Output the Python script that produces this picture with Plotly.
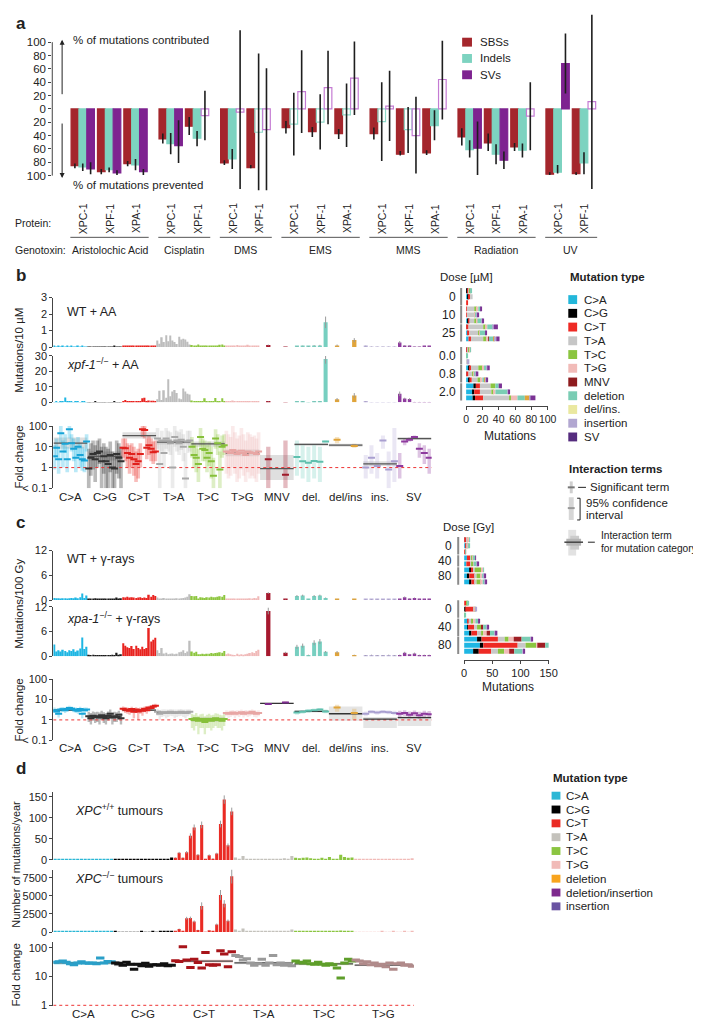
import numpy as np
import plotly.graph_objects as go

W, H = 701, 1018
FONT = "Liberation Sans, Arial, Helvetica, sans-serif"

# ======================= DATA =======================
# ---- Panel a: % of mutations contributed (+) / prevented (-) ----
A_GENOTOXINS = ["Aristolochic Acid", "Cisplatin", "DMS", "EMS", "MMS", "Radiation", "UV"]
A_GENOTOXIN_SIZE = [3, 2, 2, 3, 3, 3, 2]
A_PROTEINS = ["XPC-1", "XPF-1", "XPA-1", "XPC-1", "XPF-1", "XPC-1", "XPF-1", "XPC-1", "XPF-1",
              "XPA-1", "XPC-1", "XPF-1", "XPA-1", "XPC-1", "XPF-1", "XPA-1", "XPC-1", "XPF-1"]
A_SBS = [-85, -94, -82, -45, -26, -81, -88, -28, -34, -37, -37, -68, -66, -42, -51, -57, -98, -97]
A_SBS_UP = [-82, -90, -78, -37, -12, -77, -84, -18, -27, -30, -28, -63, -62, -29, -37, -51, -95, -95]
A_SBS_LOW = [-89, -98, -86, -52, -39, -84, -89, -37, -42, -45, -46, -70, -69, -55, -63, -63, -99, -99]
A_IND = [-87, -91, -84, -52, -44, -75, -35, -23, -20, -9, -19, -31, -25, -61, -68, -62, -95, -81]
A_IND_UP = [-82, -88, -75, -36, -33, -60, 83, 24, 22, 38, 40, 3, -2, -47, -53, -52, -84, -65]
A_IND_LOW = [-93, -95, -92, -68, -56, -90, -122, -70, -61, -57, -78, -66, -47, -73, -83, -73, -97, -98]
A_SV = [-90, -96, -94, -55, -10, -5, -31, 26, 32, 46, 4, -40, 44, -59, -77, -11, 68, 11]
A_SV_UP = [-80, -92, -90, -17, 27, 118, 61, 88, 87, 101, 57, 18, 102, -19, -64, 40, 113, 141]
A_SV_LOW = [-98, -99, -99, -81, -47, -120, -122, -36, -23, -9, -48, -97, -16, -99, -90, -62, 23, -120]
A_SBS_SIG = [1, 1, 1, 1, 1, 1, 1, 1, 1, 1, 1, 1, 1, 1, 1, 1, 1, 1]
A_IND_SIG = [1, 1, 1, 1, 1, 1, 0, 0, 0, 0, 0, 0, 1, 1, 1, 1, 1, 1]
A_SV_SIG = [1, 1, 1, 1, 0, 0, 0, 0, 0, 0, 0, 0, 0, 1, 1, 0, 1, 0]
A_SERIES = ["SBSs", "Indels", "SVs"]
A_COLORS = ["#A4262C", "#7DD3C0", "#7E2390"]
A_OPEN_COLORS = ["#C9686C", "#8FD8C8", "#C47BD3"]

# ---- Panels b/c: mutation classes ----
CLASS_LABELS = ["C>A", "C>G", "C>T", "T>A", "T>C", "T>G", "MNV", "del.", "del/ins", "ins.", "SV"]
SPEC_COLORS = ["#1EB6E3", "#1A1A1A", "#E8231F", "#BDBDBD", "#8DC63F", "#F0B9B8",
               "#A6192E", "#77CFC0", "#E0A43A", "#B9AFD9", "#8E3A9E"]
DASH_COLORS = ["#17A3D6", "#333333", "#E0201C", "#A8A8A8", "#86C03A", "#E8A6A4",
               "#9E1A2A", "#5FC0AE", "#E0A43A", "#A99FD0", "#8E3A9E"]

# b: mutations per 10 uM, WT + AA (one list per class)
B_WT_SPEC = [
    [0.03, 0.02, 0.03, 0.02, 0.03, 0.02, 0.03, 0.02, 0.03, 0.02, 0.02, 0.03, 0.02, 0.03, 0.02, 0.02],
    [0.02, 0.01, 0.02, 0.02, 0.01, 0.02, 0.02, 0.01, 0.02, 0.02, 0.01, 0.02, 0.03, 0.02, 0.02, 0.02],
    [0.04, 0.03, 0.05, 0.04, 0.03, 0.05, 0.04, 0.06, 0.04, 0.05, 0.04, 0.06, 0.05, 0.04, 0.07, 0.05],
    [0.40, 0.20, 0.60, 0.30, 0.72, 0.35, 0.70, 0.40, 0.30, 0.18, 0.62, 0.45, 0.50, 0.45, 0.32, 0.15],
    [0.12, 0.05, 0.06, 0.15, 0.07, 0.06, 0.05, 0.06, 0.05, 0.08, 0.06, 0.05, 0.10, 0.14, 0.15, 0.06],
    [0.06, 0.04, 0.10, 0.05, 0.08, 0.12, 0.07, 0.05, 0.10, 0.06, 0.14, 0.06, 0.05, 0.08, 0.06, 0.10],
    [0.12, 0.02],
    [0.04, 0.06, 0.03, 0.08, 0.10, 1.50],
    [0.10, 0.42],
    [0.06, 0.02, 0.02, 0.02, 0.01, 0.02],
    [0.28, 0.08, 0.06, 0.02, 0.02, 0.03, 0.03],
]
B_WT_ERR = [None, None, None, None, None, None,
            [0.03, 0.01], [0.02, 0.02, 0.02, 0.03, 0.03, 0.35], [0.05, 0.12],
            [0.02, 0.01, 0.01, 0.01, 0.01, 0.01], [0.08, 0.03, 0.03, 0.01, 0.01, 0.01, 0.01]]
# b: xpf-1 + AA
B_X_SPEC = [
    [0.2, 0.3, 0.2, 0.4, 0.3, 3.2, 0.3, 0.6, 0.3, 0.2, 0.3, 0.4, 0.2, 0.3, 0.3, 0.2],
    [0.2, 0.15, 0.2, 0.3, 0.2, 0.15, 0.2, 0.25, 0.2, 0.15, 0.2, 0.2, 0.3, 0.2, 0.25, 0.2],
    [0.4, 1.6, 0.5, 0.8, 0.6, 0.5, 0.7, 0.5, 0.6, 2.6, 3.0, 0.8, 1.2, 1.0, 1.1, 0.6],
    [2.0, 7.5, 1.5, 7.8, 3.0, 15.0, 4.0, 7.0, 8.0, 6.0, 2.5, 2.0, 9.0, 7.0, 5.5, 5.0],
    [1.2, 0.3, 0.4, 0.3, 0.5, 0.6, 2.6, 0.4, 0.3, 0.5, 0.4, 2.8, 0.5, 0.4, 2.6, 0.4],
    [0.5, 0.8, 0.6, 1.2, 0.7, 0.9, 0.6, 0.5, 0.8, 0.6, 0.7, 0.9, 0.5, 0.6, 0.4, 0.5],
    [0.4, 0.1],
    [0.3, 0.4, 0.1, 0.3, 0.4, 28.0],
    [2.0, 4.5],
    [0.3, 0.1, 0.1, 0.1, 0.1, 0.1],
    [5.5, 2.5, 2.2, 0.2, 0.2, 0.2, 0.2],
]
B_X_ERR = [None, None, None, None, None, None,
           [0.2, 0.05], [0.2, 0.2, 0.1, 0.2, 0.2, 3.0], [0.8, 1.5],
           [0.2, 0.1, 0.1, 0.1, 0.1, 0.1], [1.5, 0.5, 0.5, 0.1, 0.1, 0.1, 0.1]]
# b: fold change estimates / 95% CI per context
B_FC_EST = [
    [3.5, 9.0, 2.5, 45, 6.0, 14, 2.5, 70, 15, 8.0, 3.0, 10, 4.0, 2.5, 2.2, 18],
    [0.9, 3.0, 4.5, 2.5, 5.0, 6.0, 2.0, 3.5, 2.0, 1.5, 4.0, 1.0, 0.9, 4.5, 3.0, 2.0],
    [9.0, 8.5, 5.0, 3.0, 4.5, 2.5, 1.5, 2.0, 4.5, 70, 65, 9.0, 12, 8.0, 5.5, 6.0],
    [25, 1.5, 20, 5.0, 25, 20, 15, 1.0, 30, 20, 15, 22, 10, 0.3, 18, 20],
    [10, 4.0, 3.0, 1.5, 30, 8.0, 7.0, 3.0, 5.0, 2.0, 0.4, 25, 15, 0.8, 10, 12],
    [6.0, 5.5, 5.0, 7.0, 6.0, 4.5, 5.0, 6.5, 5.0, 4.0, 6.0, 5.5, 5.0, 5.0, 4.5, 6.0],
    [2.5, 0.45],
    [3.2, 2.0, 1.7, 2.1, 1.9, 18],
    [22, 11],
    [1.0, 3.0, 1.2, 20, 0.8, 2.0],
    [1.2, 18, 22, 30, 8.0, 5.0, 3.0],
]
B_FC_LO = [
    [0.8, 3.0, 0.5, 15, 1.0, 5.0, 0.6, 25, 6.0, 2.0, 0.6, 3.0, 1.0, 0.7, 0.6, 6.0],
    [0.1, 0.4, 0.8, 0.2, 1.0, 1.5, 0.1, 0.5, 0.1, 0.1, 0.6, 0.1, 0.1, 0.5, 0.3, 0.1],
    [3.0, 2.0, 1.0, 0.5, 1.0, 0.4, 0.2, 0.3, 1.0, 30, 25, 2.5, 4.0, 2.0, 1.5, 2.0],
    [8, 0.1, 6, 1, 8, 6, 4, 0.1, 10, 6, 4, 7, 2, 0.1, 5, 6],
    [3, 1, 0.6, 0.2, 10, 2, 2, 0.6, 1.2, 0.3, 0.1, 8, 4, 0.1, 3, 4],
    [0.5, 0.3, 0.4, 1.0, 0.5, 0.2, 0.3, 0.8, 0.4, 0.2, 0.6, 0.3, 0.4, 0.3, 0.2, 0.5],
    [0.1, 0.1],
    [0.4, 0.3, 0.2, 0.3, 0.2, 16],
    [15, 9],
    [0.3, 0.5, 0.3, 8, 0.1, 0.2],
    [0.3, 12, 18, 25, 3, 1.5, 0.5],
]
B_FC_HI = [
    [12, 25, 10, 100, 20, 40, 10, 100, 40, 25, 10, 30, 15, 10, 8.0, 40],
    [8, 15, 20, 12, 20, 25, 10, 15, 10, 8, 18, 6, 5, 20, 15, 10],
    [25, 25, 15, 12, 15, 10, 6, 8, 15, 100, 100, 25, 35, 25, 18, 20],
    [80, 15, 60, 25, 80, 60, 50, 12, 100, 60, 50, 70, 40, 5, 60, 60],
    [30, 15, 12, 8, 80, 25, 20, 12, 18, 10, 3, 70, 40, 6, 35, 40],
    [60, 40, 30, 100, 50, 25, 35, 80, 40, 20, 50, 40, 30, 35, 25, 50],
    [10, 20],
    [20, 12, 10, 12, 10, 20],
    [30, 14],
    [4, 12, 5, 35, 6, 80],
    [5, 25, 28, 35, 15, 12, 8],
]
# class-level interaction term: (estimate, low, high)
B_FC_CLASS = [(15, 8, 28), (3.5, 2.2, 6), (35, 25, 50), (17, 13, 22), (14, 10, 18), (5.0, 3.5, 7.5),
              (0.9, 0.25, 4), (13, 11, 15), (12, 10, 14), (1.5, 1.2, 2.0), (25, 22, 30)]
# b: stacked mutation counts per sample (C>A, C>G, C>T, T>A, T>C, T>G, MNV, del, del/ins, ins, SV)
B_DOSE_LABELS = ["0", "10", "25", "0.0", "0.8", "2.0"]
B_REPS = [3, 3, 3, 3, 3, 3]
B_ROWS = [
    [1, 0.5, 1, 2, 1, 0.5, 0, 1, 0, 0, 0],
    [2, 1, 2, 3, 0, 0, 0, 0, 0, 0, 0],
    [0, 0, 2, 0, 0, 0, 0, 0, 0, 0, 0],
    [0, 0, 1, 9, 3, 2, 0, 3, 0, 0, 1],
    [0, 0, 1, 9, 1, 1, 0, 1, 0, 1, 2],
    [2, 1, 1, 6, 3, 1, 0, 5, 0, 1, 1],
    [1, 0, 2, 18, 3, 2, 0, 7, 0, 1, 5],
    [2, 0, 2, 11, 1, 1, 0, 7, 0, 0, 1],
    [3, 0, 3, 15, 4, 2, 1, 6, 1, 2, 4],
    [1, 0, 1, 1, 1, 1, 0, 1, 0, 0, 0],
    [0, 0, 0, 0, 1, 0, 0, 1, 0, 0, 0],
    [0, 0, 0, 2, 0, 0, 0, 0, 0, 2, 0],
    [3, 1, 2, 9, 5, 2, 0, 3, 0, 1, 3],
    [1, 0, 2, 5, 1, 2, 0, 1, 0, 1, 2],
    [3, 1, 3, 7, 4, 2, 0, 3, 1, 1, 2],
    [9, 3, 5, 13, 6, 0, 0, 4, 0, 0, 4],
    [8, 2, 7, 14, 3, 2, 0, 15, 0, 1, 1],
    [8, 3, 10, 32, 2, 8, 0, 9, 6, 1, 6],
]
STACK_COLORS = ["#1EB6E3", "#000000", "#EE2A24", "#C8C8C8", "#8BC540", "#F1BBB8",
                "#9E1F24", "#7ACDB4", "#E0A43A", "#B2A7D1", "#7B3294"]
B_LEGEND_LABELS = ["C>A", "C>G", "C>T", "T>A", "T>C", "T>G", "MNV", "deletion", "del/ins.", "insertion", "SV"]
B_LEGEND_COLORS = ["#23B7DA", "#000000", "#EE2A24", "#C6C6C6", "#8BC540", "#F1BBB8",
                   "#8E1B1E", "#7ACDB4", "#EAE8A0", "#B2A7D1", "#552C7E"]

# c: mutations per 100 Gy, WT + gamma-rays
C_WT_SPEC = [
    [0.5, 0.4, 0.4, 0.3, 0.4, 0.4, 0.3, 0.4, 0.5, 0.4, 0.6, 0.4, 0.7, 1.6, 0.5, 1.1],
    [0.3, 0.2, 0.3, 0.4, 0.2, 0.2, 0.2, 0.3, 0.2, 0.2, 0.3, 0.3, 0.2, 0.6, 0.3, 0.4],
    [0.7, 0.6, 0.8, 0.6, 0.7, 0.6, 0.5, 0.6, 0.7, 0.5, 0.6, 0.5, 1.3, 0.8, 1.2, 1.0],
    [0.6, 0.2, 0.3, 0.5, 0.2, 0.2, 0.3, 0.2, 0.3, 0.4, 0.3, 0.4, 0.5, 0.6, 0.8, 1.4],
    [1.0, 0.9, 1.0, 0.3, 0.7, 0.6, 0.5, 0.7, 0.6, 0.8, 0.7, 0.7, 0.8, 0.9, 0.8, 1.2],
    [0.3, 0.2, 0.2, 0.3, 0.2, 0.2, 0.3, 0.2, 0.3, 0.2, 0.3, 0.4, 0.3, 0.5, 0.4, 0.9],
    [1.7, 0.2],
    [1.0, 1.1, 0.2, 1.0, 1.1, 0.5],
    [0.2, 0.2],
    [0.2, 0.15, 0.2, 0.15, 0.2, 0.15],
    [0.2, 0.7, 0.3, 0.5, 0.2, 0.2, 0.2],
]
C_WT_ERR = [None, None, None, None, None, None,
            [0.2, 0.05], [0.2, 0.2, 0.05, 0.2, 0.2, 0.1], [0.05, 0.05],
            [0.05, 0.05, 0.05, 0.05, 0.05, 0.05], [0.05, 0.15, 0.1, 0.1, 0.05, 0.05, 0.05]]
# c: xpa-1 + gamma-rays
C_X_SPEC = [
    [2.9, 1.2, 1.5, 1.2, 1.6, 1.3, 1.0, 1.5, 1.3, 1.7, 1.1, 1.4, 1.9, 4.6, 1.8, 2.3],
    [0.4, 0.3, 0.4, 0.3, 0.2, 0.3, 0.2, 0.3, 0.3, 0.2, 0.3, 0.4, 0.3, 0.9, 0.4, 0.5],
    [3.2, 2.6, 2.2, 2.0, 2.5, 1.8, 2.6, 2.0, 1.7, 2.3, 1.8, 2.0, 6.9, 3.6, 4.0, 4.5],
    [1.5, 0.8, 2.0, 0.7, 0.9, 0.5, 0.6, 0.7, 0.5, 0.6, 1.0, 1.1, 1.5, 0.8, 1.2, 3.8],
    [1.2, 0.9, 1.1, 0.5, 0.5, 0.6, 0.5, 0.6, 0.6, 0.8, 0.7, 0.8, 0.9, 1.0, 0.9, 1.3],
    [0.5, 0.7, 0.5, 0.4, 0.3, 0.6, 0.4, 0.5, 0.4, 0.5, 0.6, 0.8, 1.0, 0.8, 1.3, 1.6],
    [11.0, 0.9],
    [2.3, 2.6, 0.3, 3.3, 3.6, 1.1],
    [1.0, 0.3],
    [0.2, 0.3, 0.2, 0.2, 0.3, 0.2],
    [0.3, 0.9, 0.5, 0.7, 0.3, 0.3, 0.3],
]
C_X_ERR = [None, None, None, None, None, None,
           [0.8, 0.2], [0.5, 0.5, 0.1, 0.6, 0.6, 0.2], [0.3, 0.1],
           [0.1, 0.1, 0.1, 0.1, 0.1, 0.1], [0.1, 0.2, 0.1, 0.2, 0.1, 0.1, 0.1]]
C_FC_EST = [
    [3.0, 2.6, 2.0, 3.2, 3.3, 3.0, 3.4, 3.8, 3.5, 3.2, 3.0, 2.8, 3.4, 2.0, 3.0, 3.2],
    [1.5, 1.2, 1.6, 1.4, 1.5, 1.3, 1.7, 1.4, 1.2, 1.6, 2.0, 1.3, 1.5, 1.4, 1.8, 1.2],
    [3.5, 3.2, 3.0, 2.8, 3.4, 2.5, 3.2, 2.6, 3.0, 2.8, 3.5, 3.0, 4.0, 3.8, 4.5, 5.0],
    [2.5, 2.0, 2.3, 2.4, 2.2, 2.3, 2.5, 2.4, 2.2, 2.3, 2.4, 2.5, 2.3, 2.2, 2.4, 2.5],
    [1.1, 1.0, 1.2, 0.9, 1.0, 1.1, 0.8, 1.0, 1.1, 0.9, 1.0, 1.2, 1.1, 1.0, 0.9, 1.1],
    [2.2, 2.0, 2.1, 2.3, 2.0, 2.2, 2.1, 2.4, 2.0, 2.3, 2.1, 2.2, 2.5, 2.1, 2.0, 2.2],
    [6.0, 7.2],
    [2.3, 2.5, 2.8, 3.0, 3.2, 2.6],
    [4.0, 2.2],
    [2.0, 2.5, 2.3, 2.5, 2.4, 2.2],
    [2.0, 2.2, 1.8, 2.1, 1.7, 2.0, 1.9],
]
C_FC_LO = [
    [2.2, 1.8, 1.3, 2.4, 2.5, 2.2, 2.6, 2.9, 2.7, 2.4, 2.2, 2.0, 2.6, 1.2, 2.2, 2.5],
    [0.8, 0.6, 0.9, 0.7, 0.8, 0.6, 1.0, 0.7, 0.6, 0.9, 1.2, 0.6, 0.8, 0.8, 1.0, 0.6],
    [2.6, 2.2, 2.0, 1.8, 2.4, 1.2, 2.2, 1.0, 2.0, 1.6, 2.4, 2.0, 3.2, 2.8, 3.5, 4.0],
    [1.6, 1.0, 1.4, 1.5, 1.2, 1.4, 1.6, 1.5, 1.2, 1.4, 1.5, 1.6, 1.4, 1.2, 1.5, 1.8],
    [0.4, 0.3, 0.5, 0.2, 0.4, 0.4, 0.2, 0.4, 0.4, 0.3, 0.4, 0.5, 0.4, 0.4, 0.3, 0.5],
    [1.5, 1.2, 1.4, 1.6, 1.2, 1.5, 1.4, 1.7, 1.3, 1.6, 1.4, 1.5, 1.8, 1.4, 1.3, 1.5],
    [5.5, 6.5],
    [1.8, 2.0, 2.2, 2.5, 2.7, 2.1],
    [2.5, 1.0],
    [1.5, 2.0, 1.8, 2.0, 1.9, 1.7],
    [1.4, 1.6, 1.2, 1.5, 1.1, 1.4, 1.3],
]
C_FC_HI = [
    [4.0, 3.6, 3.0, 4.2, 4.3, 4.0, 4.5, 5.0, 4.6, 4.2, 4.0, 3.8, 4.4, 3.2, 4.0, 4.1],
    [2.5, 2.2, 2.6, 2.4, 2.5, 2.3, 2.8, 2.4, 2.2, 2.6, 3.2, 2.3, 2.5, 2.4, 2.8, 2.2],
    [4.5, 4.2, 4.0, 3.8, 4.4, 3.6, 4.2, 3.6, 4.0, 3.8, 4.6, 4.0, 5.0, 4.8, 5.6, 6.2],
    [3.4, 3.0, 3.2, 3.3, 3.2, 3.2, 3.4, 3.3, 3.2, 3.2, 3.3, 3.4, 3.2, 3.2, 3.3, 3.3],
    [2.0, 1.8, 2.2, 1.6, 1.9, 2.0, 1.5, 1.8, 2.0, 1.7, 1.8, 2.1, 2.0, 1.8, 1.7, 2.0],
    [3.0, 2.8, 2.9, 3.1, 2.8, 3.0, 2.9, 3.2, 2.8, 3.1, 2.9, 3.0, 3.3, 2.9, 2.8, 3.0],
    [6.6, 8.0],
    [2.9, 3.1, 3.4, 3.6, 3.8, 3.2],
    [5.5, 3.5],
    [2.6, 3.1, 2.9, 3.1, 3.0, 2.8],
    [2.8, 3.0, 2.6, 2.9, 2.5, 2.8, 2.7],
]
C_FC_CLASS = [(3.0, 2.7, 3.3), (1.4, 1.1, 1.7), (3.0, 2.7, 3.3), (2.3, 2.1, 2.5), (1.1, 0.8, 1.4),
              (2.1, 1.9, 2.3), (6.5, 6.0, 7.0), (2.6, 2.3, 2.9), (2.0, 0.9, 4.5), (1.1, 0.4, 1.4),
              (1.3, 0.5, 1.6)]
C_DASH_COLORS = ["#17A3D6", "#333333", "#E0201C", "#A8A8A8", "#86C03A", "#E8A6A4",
                 "#7D2E91", "#5FC0AE", "#E0A43A", "#A99FD0", "#8E3A9E"]
C_DOSE_LABELS = ["0", "40", "80", "0", "40", "80"]
C_REPS = [3, 2, 3, 3, 3, 3]
C_ROWS = [
    [1, 0, 3, 2, 1, 2, 0, 1, 0, 0, 0],
    [2, 0, 2, 2, 1, 1, 0, 1, 0, 0, 0],
    [0, 0, 2, 0, 0, 0, 0, 1, 0, 0, 0],
    [5, 0, 6, 2, 2, 2, 0, 3, 0, 0, 1],
    [4, 0, 7, 2, 3, 1, 0, 6, 0, 1, 1],
    [9, 3, 4, 3, 11, 4, 0, 1, 0, 0, 0],
    [5, 4, 10, 3, 7, 3, 0, 3, 0, 2, 2],
    [10, 3, 6, 3, 8, 3, 0, 4, 0, 2, 1],
    [0, 0, 4, 1, 1, 1, 0, 1, 0, 0, 0],
    [0, 2, 15, 1, 1, 1, 0, 1, 0, 1, 0],
    [0, 0, 0, 0, 1, 0, 0, 2, 0, 0, 0],
    [7, 0, 1, 6, 2, 4, 0, 5, 0, 1, 1],
    [6, 1, 11, 5, 7, 0, 4, 6, 0, 1, 2],
    [10, 3, 10, 8, 3, 6, 6, 8, 0, 2, 3],
    [23, 8, 29, 12, 7, 9, 14, 16, 0, 1, 2],
    [28, 6, 61, 14, 19, 2, 14, 7, 0, 1, 3],
    [16, 10, 22, 12, 11, 9, 9, 14, 0, 2, 2],
]

# ---- Panel d: human tumours ----
D_CLASSES = ["C>A", "C>G", "C>T", "T>A", "T>C", "T>G"]
D_COLORS = ["#2BB7D5", "#000000", "#EA2B24", "#C4C2BC", "#8BC541", "#F1BBB8"]
D_DASH = ["#2A9FC8", "#111111", "#A8141A", "#9A9A9A", "#5E9E2A", "#B08A8A"]
D_WT = [
    [3, 2, 2, 1, 3, 2, 2, 2, 1, 2, 2, 1, 3, 3, 2, 3],
    [1, 1, 1, 1, 1, 1, 1, 1, 1, 1, 1, 1, 2, 3, 2, 6],
    [5, 17, 5, 18, 57, 77, 12, 83, 2, 11, 3, 15, 85, 143, 35, 115],
    [6, 3, 9, 2, 2, 2, 1, 1, 2, 2, 2, 2, 1, 4, 1, 9],
    [5, 4, 5, 6, 4, 3, 3, 5, 3, 7, 3, 3, 12, 7, 5, 6],
    [1, 1, 1, 1, 1, 1, 1, 2, 1, 1, 2, 1, 1, 2, 1, 4],
]
D_WT_ERR = [None, None, [1, 2, 1, 3, 6, 7, 2, 8, 0.5, 2, 1, 2, 8, 10, 4, 9], None, None, None]
D_KO = [
    [80, 60, 50, 40, 90, 60, 50, 60, 40, 60, 70, 50, 80, 90, 70, 90],
    [40, 30, 30, 30, 30, 30, 30, 40, 30, 30, 40, 30, 40, 60, 50, 80],
    [100, 420, 60, 1900, 1950, 1450, 280, 3600, 30, 250, 40, 1050, 5100, 3900, 1550, 7700],
    [350, 150, 500, 80, 60, 60, 40, 40, 60, 60, 50, 60, 40, 150, 40, 350],
    [120, 100, 120, 150, 100, 90, 90, 120, 80, 180, 80, 80, 200, 150, 120, 150],
    [30, 30, 30, 30, 30, 30, 30, 50, 30, 30, 40, 30, 30, 40, 30, 90],
]
D_KO_ERR = [None, None, [20, 60, 10, 200, 180, 150, 40, 500, 5, 40, 5, 120, 700, 500, 180, 1000], None, None, None]
D_FC_EST = [
    [32, 33, 35, 32, 28, 26, 30, 33, 30, 29, 30, 28, 45, 30, 34, 33],
    [30, 29, 25, 32, 27, 18, 27, 24, 29, 23, 26, 26, 25, 28, 24, 25],
    [36, 34, 110, 38, 21, 40, 31, 20, 70, 26, 25, 26, 80, 62, 22, 73],
    [55, 50, 38, 42, 30, 25, 28, 40, 25, 30, 55, 26, 30, 25, 28, 24],
    [35, 32, 30, 35, 28, 27, 32, 27, 25, 28, 26, 20, 9, 30, 40, 35],
    [38, 35, 28, 33, 26, 30, 24, 27, 22, 30, 18, 28, 30, 25, 26, 23],
]
D_FC_CLASS = [(30, 26, 35), (26, 23, 29), (35, 31, 39), (30, 27, 33), (28, 25, 31), (25, 23, 27)]
D_LEGEND_LABELS = ["C>A", "C>G", "C>T", "T>A", "T>C", "T>G", "deletion", "deletion/insertion", "insertion"]
D_LEGEND_COLORS = ["#2BB7D5", "#000000", "#EA2B24", "#C4C2BC", "#8BC541", "#F1BBB8",
                   "#F8A41E", "#7E2A8E", "#6A53A2"]


# ======================= HELPERS =======================
def rgba(hexc, a):
    h = hexc.lstrip('#')
    return 'rgba(%d,%d,%d,%s)' % (int(h[0:2], 16), int(h[2:4], 16), int(h[4:6], 16), a)


fig = go.Figure()
layout = dict(width=W, height=H, margin=dict(l=0, r=0, t=0, b=0), paper_bgcolor='white',
              plot_bgcolor='rgba(0,0,0,0)', showlegend=False, barmode='overlay',
              font=dict(family=FONT, size=11, color='#222'))
annots = []
shapes = []
axn = [0]


def new_axes(xdom, ydom, xr, yr, ytype='linear', yticks=None, yticktext=None, yline=True,
             xvisible=False, xticks=None):
    axn[0] += 1
    n = axn[0]
    s = '' if n == 1 else str(n)
    xa = dict(domain=[xdom[0] / W, xdom[1] / W], range=xr, anchor='y' + s, showgrid=False,
              zeroline=False, fixedrange=True)
    if xvisible:
        xa.update(showline=True, linecolor='#444', linewidth=1, ticks='outside', ticklen=3,
                  tickcolor='#444', tickvals=xticks, tickangle=0,
                  tickfont=dict(size=11, color='#222'))
    else:
        xa.update(visible=False)
    ya = dict(domain=[1 - ydom[1] / H, 1 - ydom[0] / H], range=yr, type=ytype, anchor='x' + s,
              showgrid=False, zeroline=False, fixedrange=True)
    if yticks is None:
        ya.update(visible=False)
    else:
        ya.update(showline=yline, linecolor='#444', linewidth=1, ticks='outside', ticklen=3,
                  tickcolor='#444', tickvals=yticks, ticktext=yticktext,
                  tickfont=dict(size=11, color='#222'))
    layout['xaxis' + s] = xa
    layout['yaxis' + s] = ya
    return 'x' + s, 'y' + s


def txt(x, y, text, size=11, anchor='left', yanchor='middle', bold=False, angle=0,
        xref='paper', yref='paper', color='#222'):
    annots.append(dict(x=x / W if xref == 'paper' else x, y=1 - y / H if yref == 'paper' else y,
                       xref=xref, yref=yref, text=('<b>' + text + '</b>') if bold else text,
                       showarrow=False, xanchor=anchor, yanchor=yanchor, textangle=angle,
                       font=dict(size=size, color=color, family=FONT)))


def line_px(x0, y0, x1, y1, color='#222', w=1):
    shapes.append(dict(type='line', xref='paper', yref='paper', x0=x0 / W, x1=x1 / W,
                       y0=1 - y0 / H, y1=1 - y1 / H, line=dict(color=color, width=w)))


def rect_px(x0, y0, x1, y1, color):
    shapes.append(dict(type='rect', xref='paper', yref='paper', x0=x0 / W, x1=x1 / W,
                       y0=1 - y0 / H, y1=1 - y1 / H, fillcolor=color, line=dict(width=0)))


def class_x(k, n):
    step = 16.0 / n
    return [16 * k + (j + 0.5) * step for j in range(n)], step


def spectrum(xa, ya, class_vals, class_errs, colors, sbs_frac=0.72):
    for k, vals in enumerate(class_vals):
        xs, step = class_x(k, len(vals))
        w = sbs_frac * step if len(vals) == 16 else min(0.7 * step, 2.0)
        bar = dict(x=xs, y=vals, width=w, offset=-w / 2, xaxis=xa, yaxis=ya, hoverinfo='skip',
                   marker=dict(color=colors[k], line=dict(width=0)))
        if class_errs[k] is not None:
            bar['error_y'] = dict(type='data', array=class_errs[k], color='#9a9a9a', thickness=1, width=0)
        fig.add_trace(go.Bar(**bar))


def fold(xa, ya, ests, los, his, cls, colors, dcolors, box_w, band_col, line_col, xmax,
         box_alpha=0.35, dsize=5, dwidth=2, symbol='line-ew-open'):
    fig.add_trace(go.Scatter(x=[0, xmax], y=[1, 1], mode='lines', xaxis=xa, yaxis=ya, hoverinfo='skip',
                             line=dict(color='#EE3333', width=1, dash='dot')))
    for k, est in enumerate(ests):
        xs, step = class_x(k, len(est))
        ce, cl, ch = cls[k]
        fig.add_trace(go.Bar(x=[16 * k + 8], y=[ch - cl], base=[cl], width=15.6, offset=-7.8,
                             xaxis=xa, yaxis=ya, hoverinfo='skip',
                             marker=dict(color=band_col(k), line=dict(width=0))))
        if los is not None:
            bw = box_w if len(est) == 16 else min(0.7 * step, 2.0)
            lo = np.array(los[k], float)
            hi = np.array(his[k], float)
            fig.add_trace(go.Bar(x=xs, y=hi - lo, base=lo, width=bw, offset=-bw / 2, xaxis=xa, yaxis=ya,
                                 hoverinfo='skip',
                                 marker=dict(color=rgba(colors[k], box_alpha), line=dict(width=0))))
        fig.add_trace(go.Scatter(x=[16 * k + 0.2, 16 * k + 15.8], y=[ce, ce], mode='lines', xaxis=xa,
                                 yaxis=ya, hoverinfo='skip', line=dict(color=line_col, width=1.3)))
        fig.add_trace(go.Scatter(x=xs, y=est, mode='markers', xaxis=xa, yaxis=ya, hoverinfo='skip',
                                 marker=dict(symbol=symbol, size=dsize, color=dcolors[k],
                                             line=dict(width=dwidth, color=dcolors[k]))))


def stacked(xa, ya, rows, reps, gap_from, gap, colors, labels, label_x, bracket_x):
    pos = []
    idx = 0
    groups = []
    for g, r in enumerate(reps):
        gp = []
        for j in range(r):
            p = idx + (gap if g >= gap_from else 0)
            pos.append(p)
            gp.append(p)
            idx += 1
        groups.append(gp)
    arr = np.array(rows, dtype=float)
    base = np.cumsum(arr, axis=1) - arr
    for t in range(arr.shape[1]):
        fig.add_trace(go.Bar(orientation='h', y=pos, x=arr[:, t], base=base[:, t], width=0.8, offset=-0.4,
                             xaxis=xa, yaxis=ya, hoverinfo='skip',
                             marker=dict(color=colors[t], line=dict(width=0))))
    for g, gp in enumerate(groups):
        shapes.append(dict(type='line', xref='paper', yref=ya, x0=bracket_x / W, x1=bracket_x / W,
                           y0=gp[0] - 0.45, y1=gp[-1] + 0.45, line=dict(color='#8a8a8a', width=2)))
        annots.append(dict(x=label_x / W, y=float(np.mean(gp)), xref='paper', yref=ya, text=labels[g],
                           showarrow=False, xanchor='right', yanchor='middle',
                           font=dict(size=12, color='#222', family=FONT)))


# ======================= PANEL a =======================
xa_a, ya_a = new_axes((42, 640), (0, 180), [-1.155, 21.125], [-124.4, 142.2],
                      yticks=list(range(-100, 101, 20)),
                      yticktext=[str(abs(v)) for v in range(-100, 101, 20)], yline=False)
layout['yaxis']['tickfont'] = dict(size=11.5, color='#222')
shapes.append(dict(type='line', xref='paper', yref='y', x0=42 / W, x1=42 / W, y0=-100, y1=100,
                   line=dict(color='#444', width=1)))

a_pos = []
a_group_pos = []
for g, n in enumerate(A_GENOTOXIN_SIZE):
    gp = []
    for j in range(n):
        p = len(a_pos) + g / 3.0
        a_pos.append(p)
        gp.append(p)
    a_group_pos.append(gp)

aw = 0.298
for k, (vals, up, low, sig) in enumerate([(A_SBS, A_SBS_UP, A_SBS_LOW, A_SBS_SIG),
                                           (A_IND, A_IND_UP, A_IND_LOW, A_IND_SIG),
                                           (A_SV, A_SV_UP, A_SV_LOW, A_SV_SIG)]):
    v = np.array(vals, float)
    xs = [p + (k - 1) * aw for p in a_pos]
    fill = [A_COLORS[k] if s else 'rgba(255,255,255,0)' for s in sig]
    lcol = [A_COLORS[k] if s else A_OPEN_COLORS[k] for s in sig]
    fig.add_trace(go.Bar(x=xs, y=v, width=aw * 0.97, offset=-aw * 0.97 / 2, name=A_SERIES[k],
                         xaxis=xa_a, yaxis=ya_a, hoverinfo='skip',
                         marker=dict(color=fill, line=dict(color=lcol, width=1.2)),
                         error_y=dict(type='data', symmetric=False,
                                      array=np.maximum(np.array(up, float) - v, 0),
                                      arrayminus=np.maximum(v - np.array(low, float), 0),
                                      color='#1e1e1e', thickness=1.6, width=0)))

# arrows and texts of panel a
annots.append(dict(x=52 / W, y=1 - 26 / H, xref='paper', yref='paper', ax=0, ay=62, text=' ',
                   showarrow=True, arrowhead=2, arrowsize=1, arrowwidth=1, arrowcolor='#222'))
annots.append(dict(x=52 / W, y=1 - 166 / H, xref='paper', yref='paper', ax=0, ay=-62, text=' ',
                   showarrow=True, arrowhead=2, arrowsize=1, arrowwidth=1, arrowcolor='#222'))
txt(61, 26, "% of mutations contributed", size=11.5)
txt(61, 173, "% of mutations prevented", size=11.5)
txt(3, 10, "a", size=17, bold=True)
for k, name in enumerate(A_SERIES):
    rect_px(459, 24 + 16.5 * k, 469, 33 + 16.5 * k, A_COLORS[k])
    txt(475, 28.5 + 16.5 * k, name, size=11.5)

txt(2, 211, "Protein:", size=10.5)
txt(2, 239, "Genotoxin:", size=10.5)
for i, p in enumerate(A_PROTEINS):
    annots.append(dict(x=a_pos[i], y=1 - 207 / H, xref='x', yref='paper', text=p, showarrow=False,
                       textangle=-90, xanchor='center', yanchor='middle',
                       font=dict(size=10.5, color='#222', family=FONT)))
for g, gp in enumerate(a_group_pos):
    shapes.append(dict(type='line', xref='x', yref='paper', x0=gp[0] - 0.47, x1=gp[-1] + 0.5,
                       y0=1 - 226 / H, y1=1 - 226 / H, line=dict(color='#555', width=1)))
    annots.append(dict(x=float(np.mean(gp)) + (0.05 if g == 0 else 0), y=1 - 239 / H, xref='x', yref='paper',
                       text=A_GENOTOXINS[g], showarrow=False, xanchor='center', yanchor='middle',
                       font=dict(size=10.5, color='#222', family=FONT)))

# ======================= PANEL b =======================
bx1, by1 = new_axes((43, 428), (287, 337), [0, 176], [0, 3], yticks=[0, 1, 2, 3], yticktext=['0', '1', '2', '3'])
bx2, by2 = new_axes((43, 428), (346, 393), [0, 176], [0, 30], yticks=[0, 10, 20, 30],
                    yticktext=['0', '10', '20', '30'])
bx3, by3 = new_axes((43, 428), (417, 480), [0, 176], [-1, 2], ytype='log', yticks=[0.1, 1, 10, 100],
                    yticktext=['&lt; 0.1', '1', '10', '100'])
bx4, by4 = new_axes((463, 546), (276, 397), [0, 100], [19.2, -0.66], xvisible=True,
                    xticks=[0, 20, 40, 60, 80, 100])
layout['xaxis' + bx4[1:]]['tickfont'] = dict(size=10.5, color='#222')

spectrum(bx1, by1, B_WT_SPEC, B_WT_ERR, SPEC_COLORS)
spectrum(bx2, by2, B_X_SPEC, B_X_ERR, SPEC_COLORS)
fold(bx3, by3, B_FC_EST, B_FC_LO, B_FC_HI, B_FC_CLASS, SPEC_COLORS, DASH_COLORS, 1.7,
     lambda k: 'rgba(150,150,150,0.30)', '#555555', 176, box_alpha=0.30)
stacked(bx4, by4, B_ROWS, B_REPS, 3, 0.8, STACK_COLORS, B_DOSE_LABELS, 455, 458)

txt(3, 265, "b", size=17, bold=True)
txt(55, 302, "WT + AA", size=12.5)
txt(55, 354, "<i>xpf-1</i><sup>−/−</sup> + AA", size=12.5)
txt(8, 340, "Mutations/10 µM", size=11.5, anchor='center', angle=-90)
txt(8, 448, "Fold change", size=11.5, anchor='center', angle=-90)
for k, lab in enumerate(CLASS_LABELS):
    annots.append(dict(x=16 * k + 8, y=1 - 489 / H, xref=bx3, yref='paper', text=lab, showarrow=False,
                       xanchor='center', yanchor='middle', font=dict(size=11.5, color='#222', family=FONT)))
txt(463, 266, "Dose [µM]", size=11.5, anchor='center')
txt(508, 427, "Mutations", size=12, anchor='center')

txt(567, 266, "Mutation type", size=11.5, bold=True)
for k, lab in enumerate(B_LEGEND_LABELS):
    yc = 289 + 13.9 * k
    rect_px(567, yc - 4.5, 576, yc + 4.5, B_LEGEND_COLORS[k])
    txt(581, yc, lab, size=11.5)

# interaction-term legend
txt(566, 460, "Interaction terms", size=11.5, bold=True)
rect_px(568.5, 473, 571.5, 485, '#cfcfcf')
line_px(566.5, 479, 573.5, 479, '#777', 2)
line_px(577, 479, 585, 479, '#222', 1)
txt(587, 479, "Significant term", size=11.5)
rect_px(567.5, 489, 572.5, 512, '#d6d6d6')
line_px(566.5, 500, 573.5, 500, '#999', 2)
line_px(576, 490, 579, 490, '#222', 1)
line_px(579, 490, 579, 512, '#222', 1)
line_px(576, 512, 579, 512, '#222', 1)
txt(583, 495, "95% confidence", size=11.5)
txt(583, 507, "interval", size=11.5)
rect_px(567, 522, 575, 548, '#e2e2e2')
rect_px(569, 528, 578, 542, '#cccccc')
rect_px(565, 531, 580, 538, '#b5b5b5')
line_px(563, 534.5, 582, 534.5, '#444', 1.5)
line_px(587, 534.5, 594, 534.5, '#222', 1)
txt(598, 528, "Interaction term", size=10.2)
txt(598, 541, "for mutation category", size=10.2)

# ======================= PANEL c =======================
cx1, cy1 = new_axes((43, 428), (543, 593), [0, 176], [0, 12], yticks=[0, 6, 12], yticktext=['0', '6', '12'])
cx2, cy2 = new_axes((43, 428), (600, 650), [0, 176], [0, 12], yticks=[0, 6, 12], yticktext=['0', '6', '12'])
cx3, cy3 = new_axes((43, 428), (673, 735), [0, 176], [-1, 2], ytype='log', yticks=[0.1, 1, 10, 100],
                    yticktext=['&lt; 0.1', '1', '10', '100'])
cx4, cy4 = new_axes((461, 547), (528, 654), [0, 150], [20.0, -0.66], xvisible=True, xticks=[0, 50, 100, 150])

spectrum(cx1, cy1, C_WT_SPEC, C_WT_ERR, SPEC_COLORS)
spectrum(cx2, cy2, C_X_SPEC, C_X_ERR, SPEC_COLORS)
fold(cx3, cy3, C_FC_EST, C_FC_LO, C_FC_HI, C_FC_CLASS, SPEC_COLORS, C_DASH_COLORS, 1.1,
     lambda k: 'rgba(160,160,160,0.28)', '#333333', 176, box_alpha=0.30, dsize=5, dwidth=2)
stacked(cx4, cy4, C_ROWS, C_REPS, 3, 2.5, STACK_COLORS, C_DOSE_LABELS, 451, 455)

txt(3, 515, "c", size=17, bold=True)
txt(55, 551, "WT + γ-rays", size=12.5)
txt(55, 611, "<i>xpa-1</i><sup>−/−</sup> + γ-rays", size=12.5)
txt(8, 597, "Mutations/100 Gy", size=11.5, anchor='center', angle=-90)
txt(8, 704, "Fold change", size=11.5, anchor='center', angle=-90)
for k, lab in enumerate(CLASS_LABELS):
    annots.append(dict(x=16 * k + 8, y=1 - 743 / H, xref=cx3, yref='paper', text=lab, showarrow=False,
                       xanchor='center', yanchor='middle', font=dict(size=11.5, color='#222', family=FONT)))
txt(465, 519, "Dose [Gy]", size=11.5, anchor='center')
txt(506, 681, "Mutations", size=12, anchor='center')

# ======================= PANEL d =======================
dx1, dy1 = new_axes((43, 410), (787, 856), [0, 96], [0, 161.7], yticks=[0, 50, 100, 150],
                    yticktext=['0', '50', '100', '150'])
dx2, dy2 = new_axes((43, 410), (866, 929), [0, 96], [0, 8590], yticks=[0, 2500, 5000, 7500],
                    yticktext=['0', '2500', '5000', '7500'])
dx3, dy3 = new_axes((43, 410), (939, 1004), [0, 96], [-0.03, 2.21], ytype='log', yticks=[1, 10, 100],
                    yticktext=['1', '10', '100'])

spectrum(dx1, dy1, D_WT, D_WT_ERR, D_COLORS, sbs_frac=0.82)
spectrum(dx2, dy2, D_KO, D_KO_ERR, D_COLORS, sbs_frac=0.82)
fold(dx3, dy3, D_FC_EST, None, None, D_FC_CLASS, D_COLORS, D_DASH, 1.0,
     lambda k: rgba(D_COLORS[k] if k not in (1, 3) else '#9a9a9a', 0.25), '#444444', 96,
     dsize=6, dwidth=3)

txt(3, 763, "d", size=17, bold=True)
txt(63, 806, "<i>XPC</i><sup>+/+</sup> tumours", size=12.5)
txt(63, 874, "<i>XPC</i><sup>−/−</sup> tumours", size=12.5)
txt(5, 860, "Number of mutaitons/year", size=11, anchor='center', angle=-90)
txt(5, 972, "Fold change", size=11.5, anchor='center', angle=-90)
for k, lab in enumerate(D_CLASSES):
    annots.append(dict(x=16 * k + 8, y=1 - 1012 / H, xref=dx3, yref='paper', text=lab, showarrow=False,
                       xanchor='center', yanchor='middle', font=dict(size=11.5, color='#222', family=FONT)))
txt(549, 773, "Mutation type", size=11.5, bold=True)
for k, lab in enumerate(D_LEGEND_LABELS):
    yc = 791 + 14 * k
    rect_px(550, yc - 4, 559, yc + 4, D_LEGEND_COLORS[k])
    txt(563, yc, lab, size=11.5)

layout['annotations'] = annots
layout['shapes'] = shapes
fig.update_layout(**layout)
fig.write_html("out.html")
